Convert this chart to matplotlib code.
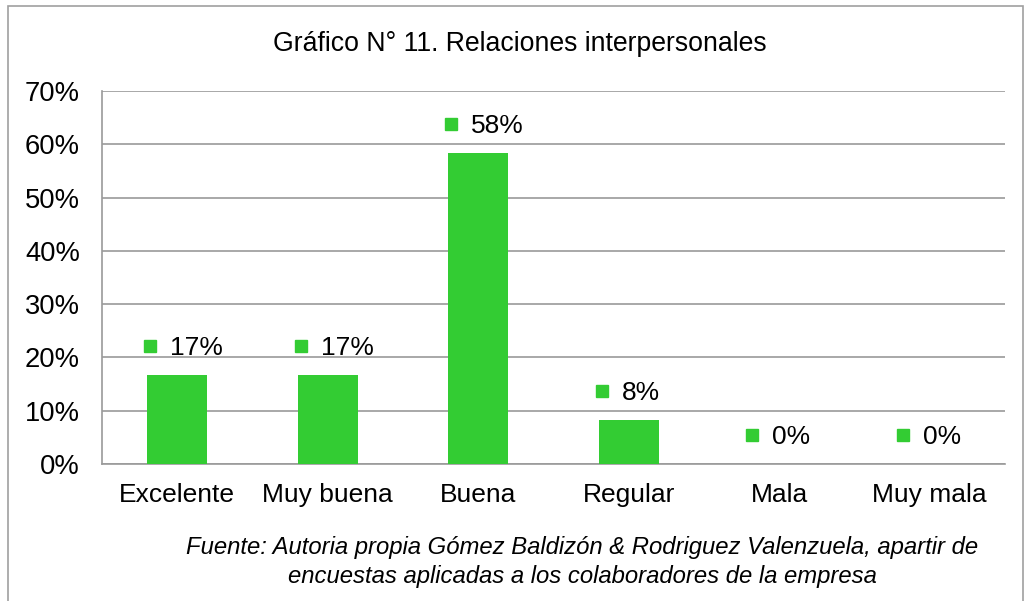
import matplotlib
matplotlib.use("Agg")
import matplotlib.pyplot as plt
from matplotlib.patches import Rectangle
from matplotlib.ticker import FuncFormatter, MultipleLocator
from matplotlib.transforms import ScaledTranslation

categories = ["Excelente", "Muy buena", "Buena", "Regular", "Mala", "Muy mala"]
values = [16.67, 16.67, 58.33, 8.33, 0.0, 0.0]
labels = ["17%", "17%", "58%", "8%", "0%", "0%"]
title = "Gráfico N° 11. Relaciones interpersonales"
footer = ("Fuente: Autoria propia Gómez Baldizón & Rodriguez Valenzuela, apartir de\n"
          "encuestas aplicadas a los colaboradores de la empresa")

GREEN = "#33CC33"
GRID = "#9A9A9A"
W, H = 1036, 601
plt.rcParams['font.family'] = ['Liberation Sans', 'DejaVu Sans']

fig = plt.figure(figsize=(W / 100, H / 100), dpi=100)
ax = fig.add_axes([102 / W, 1 - 464 / H, (1005 - 102) / W, (464 - 91) / H])

x = list(range(len(categories)))
ax.bar(x, values, width=0.4, color=GREEN, zorder=3)
ax.set_xlim(-0.5, len(categories) - 0.5)
ax.set_ylim(0, 70)
ax.yaxis.set_major_locator(MultipleLocator(10))
ax.yaxis.set_major_formatter(FuncFormatter(lambda v, p: f"{v:.0f}%"))
ax.grid(axis='y', color=GRID, linewidth=1.2, zorder=0)
ax.set_xticks(x)
ax.set_xticklabels(categories)
ax.tick_params(axis='both', length=0, colors='black')
ax.tick_params(axis='x', pad=14, labelsize=19)
ax.tick_params(axis='y', pad=16, labelsize=19.7)
for s in ['top', 'right']:
    ax.spines[s].set_visible(False)
for s in ['left', 'bottom']:
    ax.spines[s].set_color(GRID)
    ax.spines[s].set_linewidth(1.2)

for xi, v, lab in zip(x, values, labels):
    ax.annotate(lab, (xi, v), xytext=(-7, 27), textcoords='offset pixels',
                ha='left', va='center', fontsize=19)
    ax.plot([xi], [v], marker='s', markersize=9, color=GREEN, linestyle='none',
            transform=ax.transData + ScaledTranslation(-27 / 100, 29 / 100, fig.dpi_scale_trans),
            clip_on=False, zorder=4)

fig.text(520 / W, 1 - 44 / H, title, ha='center', va='center', fontsize=19.2)
fig.text(582 / W, 1 - 562 / H, footer, ha='center', va='center', fontsize=17.2,
         style='italic', linespacing=1.28)

fig.patches.append(Rectangle((8 / W, -0.05), (1023 - 8) / W, 1.05 - 6 / H,
                             transform=fig.transFigure, fill=False,
                             edgecolor='#A0A0A0', linewidth=1.2))

fig.savefig("out.png", dpi=100, facecolor='white')
